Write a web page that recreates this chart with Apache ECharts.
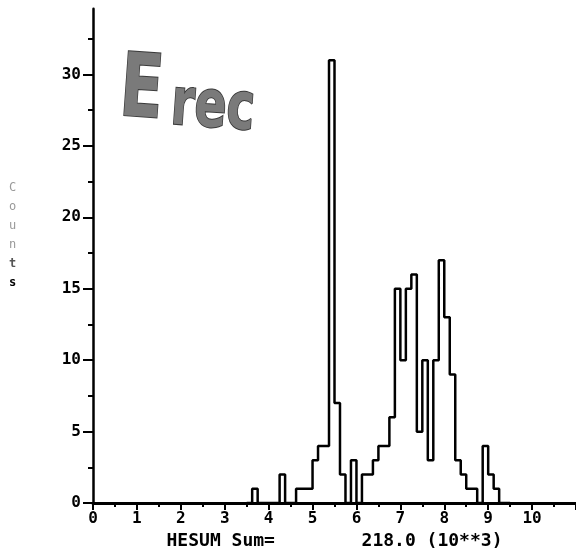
<!DOCTYPE html>
<html>
<head>
<meta charset="utf-8">
<script src="https://cdn.jsdelivr.net/npm/echarts@6/dist/echarts.min.js"></script>
<style>
  html, body { margin: 0; padding: 0; background: #fff; }
  #main { width: 576px; height: 555px; }
</style>
</head>
<body>
<div id="main"></div>
<script>
// HESUM histogram, bins 0.125 wide (units 10**3), first bin at 3.5
const binStart = 3.5;
const binWidth = 0.125;
const counts = [
  0, 1, 0, 0, 0, 0, 2, 0,
  0, 1, 1, 1, 3, 4, 4, 31,
  7, 2, 0, 3, 0, 2, 2, 3,
  4, 4, 6, 15, 10, 15, 16, 5,
  10, 3, 10, 17, 13, 9, 3, 2,
  1, 1, 0, 4, 2, 1, 0, 0
];
const xLabels = [0, 1, 2, 3, 4, 5, 6, 7, 8, 9, 10];
const yLabels = [0, 5, 10, 15, 20, 25, 30];
const yMinorTicks = [2.5, 7.5, 12.5, 17.5, 22.5, 27.5, 32.5];

// step line points: left edge of each bin, then closing edge
let stepData = counts.map((c, i) => [binStart + i * binWidth, c]);
stepData.push([binStart + counts.length * binWidth, 0]);

const monoFont = 'DejaVu Sans Mono';

const chart = echarts.init(document.getElementById('main'));

const option = {
  backgroundColor: '#fff',
  animation: false,
  grid: { left: 93, right: 0, top: 8.7, bottom: 47 },
  xAxis: {
    type: 'value',
    min: 0,
    max: 11,
    interval: 1,
    name: 'HESUM Sum=        218.0 (10**3)',
    nameLocation: 'middle',
    nameGap: 22,
    nameTextStyle: { fontFamily: monoFont, fontWeight: 'bold', fontSize: 18, color: '#000' },
    axisLine: { lineStyle: { color: '#000', width: 3 } },
    axisTick: { length: 7, lineStyle: { color: '#000', width: 2 } },
    minorTick: { show: true, splitNumber: 2, length: 4, lineStyle: { color: '#000', width: 2 } },
    splitLine: { show: false },
    minorSplitLine: { show: false },
    axisLabel: {
      customValues: xLabels,
      margin: 8,
      fontFamily: monoFont,
      fontWeight: 'bold',
      fontSize: 16,
      color: '#000'
    }
  },
  yAxis: [
    {
      type: 'value',
      min: 0,
      max: 34.6,
      axisLine: { show: true, lineStyle: { color: '#000', width: 2.5 } },
      axisTick: { show: true, customValues: yLabels, length: 10, lineStyle: { color: '#000', width: 2 } },
      splitLine: { show: false },
      axisLabel: {
        customValues: yLabels,
        margin: 12,
        fontFamily: monoFont,
        fontWeight: 'bold',
        fontSize: 16,
        color: '#000'
      }
    },
    {
      // half-step ticks only
      type: 'value',
      position: 'left',
      min: 0,
      max: 34.6,
      axisLine: { show: false },
      axisTick: { show: true, customValues: yMinorTicks, length: 5, lineStyle: { color: '#000', width: 2 } },
      axisLabel: { show: false },
      splitLine: { show: false }
    }
  ],
  graphic: [
    {
      type: 'text',
      left: 9,
      top: 182,
      style: {
        text: '{a|C}\n{a|o}\n{a|u}\n{a|n}\n{b|t}\n{c|s}',
        rich: {
          a: { fontFamily: monoFont, fontSize: 12, lineHeight: 19, fill: '#999' },
          b: { fontFamily: monoFont, fontSize: 12, lineHeight: 19, fill: '#555', fontWeight: 'bold' },
          c: { fontFamily: monoFont, fontSize: 12, lineHeight: 19, fill: '#000', fontWeight: 'bold' }
        }
      }
    },
    {
      // handwritten note
      type: 'text',
      x: 123,
      y: 48,
      rotation: -0.07,
      scaleX: 0.72,
      style: {
        text: '{e|E}{r|rec}',
        rich: {
          e: { fontFamily: 'DejaVu Sans', fontWeight: 'bold', fontSize: 88, fill: '#7a7a7a', stroke: '#3a3a3a', lineWidth: 2, padding: [0, 12, 0, 0] },
          r: { fontFamily: 'DejaVu Sans', fontWeight: 'bold', fontSize: 66, fill: '#7a7a7a', stroke: '#3a3a3a', lineWidth: 2, verticalAlign: 'bottom' }
        }
      }
    }
  ],
  series: [
    {
      type: 'line',
      step: 'end',
      symbol: 'none',
      data: stepData,
      lineStyle: { color: '#000', width: 2.5 }
    }
  ]
};

chart.setOption(option);
</script>
</body>
</html>
